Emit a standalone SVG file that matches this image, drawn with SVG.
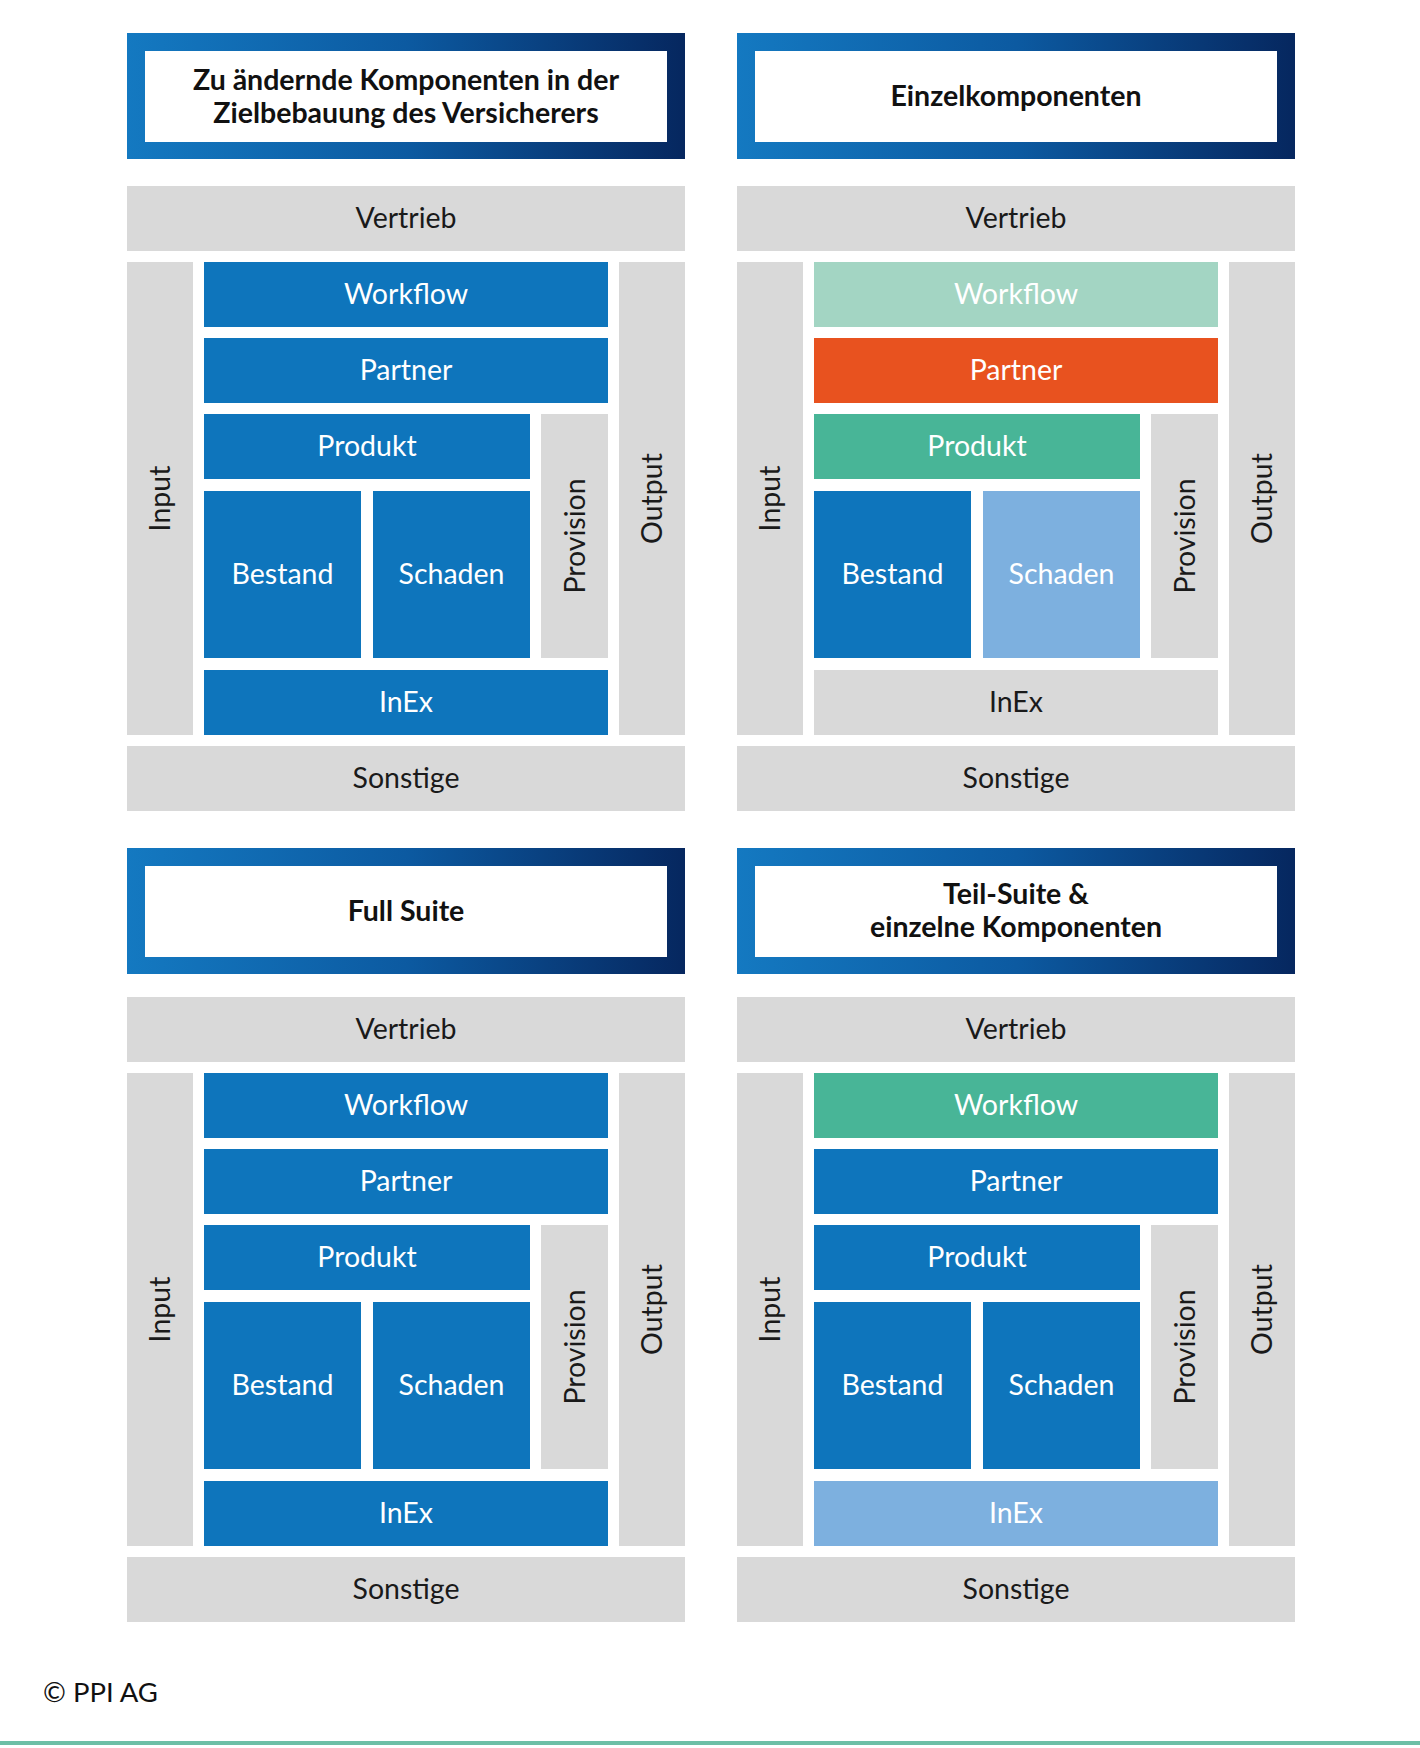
<svg xmlns="http://www.w3.org/2000/svg" width="1420" height="1748" viewBox="0 0 1420 1748">
<defs>
<linearGradient id="hdr" x1="0" y1="0" x2="1" y2="0">
<stop offset="0" stop-color="#1479c1"/>
<stop offset="0.5" stop-color="#0c5aa1"/>
<stop offset="1" stop-color="#06275f"/>
</linearGradient>
<style>
.blue{fill:#0e75bc}
.gray{fill:#d9d9d9}
.lgreen{fill:#a3d5c3}
.orange{fill:#e8521f}
.green{fill:#48b597}
.lblue{fill:#7db0df}
.white{fill:#ffffff}
.hdr{fill:url(#hdr)}
text{font-family:Lato,"Open Sans","Noto Sans",sans-serif;font-size:28.5px;text-anchor:middle}
.d{fill:#1a1a1a}
.w{fill:#ffffff}
.t{font-weight:bold;font-size:28.5px;fill:#111111}
.foot{text-anchor:start;fill:#111111;font-size:27.5px}
</style>
</defs>
<rect width="1420" height="1748" fill="#ffffff"/>

<!-- Headers -->
<g id="h1">
<rect class="hdr" x="127" y="33" width="558" height="126"/>
<rect class="white" x="145" y="51" width="522" height="91"/>
<text class="t" x="406" y="90">Zu ändernde Komponenten in der</text>
<text class="t" x="406" y="123">Zielbebauung des Versicherers</text>
</g>
<g id="h2">
<rect class="hdr" x="737" y="33" width="558" height="126"/>
<rect class="white" x="755" y="51" width="522" height="91"/>
<text class="t" x="1016" y="106">Einzelkomponenten</text>
</g>
<g id="h3">
<rect class="hdr" x="127" y="848" width="558" height="126"/>
<rect class="white" x="145" y="866" width="522" height="91"/>
<text class="t" x="406" y="921">Full Suite</text>
</g>
<g id="h4">
<rect class="hdr" x="737" y="848" width="558" height="126"/>
<rect class="white" x="755" y="866" width="522" height="91"/>
<text class="t" x="1016" y="904">Teil-Suite &amp;</text>
<text class="t" x="1016" y="937">einzelne Komponenten</text>
</g>

<!-- Panel 1 -->
<g id="panel1" transform="translate(127,186)">
<g id="p1-vertrieb"><rect class="gray" x="0" y="0" width="558" height="65"/><text class="d" x="279" y="42">Vertrieb</text></g>
<g id="p1-input"><rect class="gray" x="0" y="76" width="66" height="473"/><text class="d" transform="translate(33,312.5) rotate(-90)" y="10">Input</text></g>
<g id="p1-workflow"><rect class="blue" x="77" y="76" width="404" height="65"/><text class="w" x="279" y="118">Workflow</text></g>
<g id="p1-partner"><rect class="blue" x="77" y="152" width="404" height="65"/><text class="w" x="279" y="194">Partner</text></g>
<g id="p1-produkt"><rect class="blue" x="77" y="228" width="326" height="65"/><text class="w" x="240" y="270">Produkt</text></g>
<g id="p1-provision"><rect class="gray" x="414" y="228" width="67" height="244"/><text class="d" transform="translate(447.5,350) rotate(-90)" y="10">Provision</text></g>
<g id="p1-bestand"><rect class="blue" x="77" y="305" width="157" height="167"/><text class="w" x="155.5" y="398">Bestand</text></g>
<g id="p1-schaden"><rect class="blue" x="246" y="305" width="157" height="167"/><text class="w" x="324.5" y="398">Schaden</text></g>
<g id="p1-inex"><rect class="blue" x="77" y="484" width="404" height="65"/><text class="w" x="279" y="526">InEx</text></g>
<g id="p1-output"><rect class="gray" x="492" y="76" width="66" height="473"/><text class="d" transform="translate(525,312.5) rotate(-90)" y="10">Output</text></g>
<g id="p1-sonstige"><rect class="gray" x="0" y="560" width="558" height="65"/><text class="d" x="279" y="602">Sonstige</text></g>
</g>

<!-- Panel 2 -->
<g id="panel2" transform="translate(737,186)">
<g id="p2-vertrieb"><rect class="gray" x="0" y="0" width="558" height="65"/><text class="d" x="279" y="42">Vertrieb</text></g>
<g id="p2-input"><rect class="gray" x="0" y="76" width="66" height="473"/><text class="d" transform="translate(33,312.5) rotate(-90)" y="10">Input</text></g>
<g id="p2-workflow"><rect class="lgreen" x="77" y="76" width="404" height="65"/><text class="w" x="279" y="118">Workflow</text></g>
<g id="p2-partner"><rect class="orange" x="77" y="152" width="404" height="65"/><text class="w" x="279" y="194">Partner</text></g>
<g id="p2-produkt"><rect class="green" x="77" y="228" width="326" height="65"/><text class="w" x="240" y="270">Produkt</text></g>
<g id="p2-provision"><rect class="gray" x="414" y="228" width="67" height="244"/><text class="d" transform="translate(447.5,350) rotate(-90)" y="10">Provision</text></g>
<g id="p2-bestand"><rect class="blue" x="77" y="305" width="157" height="167"/><text class="w" x="155.5" y="398">Bestand</text></g>
<g id="p2-schaden"><rect class="lblue" x="246" y="305" width="157" height="167"/><text class="w" x="324.5" y="398">Schaden</text></g>
<g id="p2-inex"><rect class="gray" x="77" y="484" width="404" height="65"/><text class="d" x="279" y="526">InEx</text></g>
<g id="p2-output"><rect class="gray" x="492" y="76" width="66" height="473"/><text class="d" transform="translate(525,312.5) rotate(-90)" y="10">Output</text></g>
<g id="p2-sonstige"><rect class="gray" x="0" y="560" width="558" height="65"/><text class="d" x="279" y="602">Sonstige</text></g>
</g>

<!-- Panel 3 -->
<g id="panel3" transform="translate(127,997)">
<g id="p3-vertrieb"><rect class="gray" x="0" y="0" width="558" height="65"/><text class="d" x="279" y="42">Vertrieb</text></g>
<g id="p3-input"><rect class="gray" x="0" y="76" width="66" height="473"/><text class="d" transform="translate(33,312.5) rotate(-90)" y="10">Input</text></g>
<g id="p3-workflow"><rect class="blue" x="77" y="76" width="404" height="65"/><text class="w" x="279" y="118">Workflow</text></g>
<g id="p3-partner"><rect class="blue" x="77" y="152" width="404" height="65"/><text class="w" x="279" y="194">Partner</text></g>
<g id="p3-produkt"><rect class="blue" x="77" y="228" width="326" height="65"/><text class="w" x="240" y="270">Produkt</text></g>
<g id="p3-provision"><rect class="gray" x="414" y="228" width="67" height="244"/><text class="d" transform="translate(447.5,350) rotate(-90)" y="10">Provision</text></g>
<g id="p3-bestand"><rect class="blue" x="77" y="305" width="157" height="167"/><text class="w" x="155.5" y="398">Bestand</text></g>
<g id="p3-schaden"><rect class="blue" x="246" y="305" width="157" height="167"/><text class="w" x="324.5" y="398">Schaden</text></g>
<g id="p3-inex"><rect class="blue" x="77" y="484" width="404" height="65"/><text class="w" x="279" y="526">InEx</text></g>
<g id="p3-output"><rect class="gray" x="492" y="76" width="66" height="473"/><text class="d" transform="translate(525,312.5) rotate(-90)" y="10">Output</text></g>
<g id="p3-sonstige"><rect class="gray" x="0" y="560" width="558" height="65"/><text class="d" x="279" y="602">Sonstige</text></g>
</g>

<!-- Panel 4 -->
<g id="panel4" transform="translate(737,997)">
<g id="p4-vertrieb"><rect class="gray" x="0" y="0" width="558" height="65"/><text class="d" x="279" y="42">Vertrieb</text></g>
<g id="p4-input"><rect class="gray" x="0" y="76" width="66" height="473"/><text class="d" transform="translate(33,312.5) rotate(-90)" y="10">Input</text></g>
<g id="p4-workflow"><rect class="green" x="77" y="76" width="404" height="65"/><text class="w" x="279" y="118">Workflow</text></g>
<g id="p4-partner"><rect class="blue" x="77" y="152" width="404" height="65"/><text class="w" x="279" y="194">Partner</text></g>
<g id="p4-produkt"><rect class="blue" x="77" y="228" width="326" height="65"/><text class="w" x="240" y="270">Produkt</text></g>
<g id="p4-provision"><rect class="gray" x="414" y="228" width="67" height="244"/><text class="d" transform="translate(447.5,350) rotate(-90)" y="10">Provision</text></g>
<g id="p4-bestand"><rect class="blue" x="77" y="305" width="157" height="167"/><text class="w" x="155.5" y="398">Bestand</text></g>
<g id="p4-schaden"><rect class="blue" x="246" y="305" width="157" height="167"/><text class="w" x="324.5" y="398">Schaden</text></g>
<g id="p4-inex"><rect class="lblue" x="77" y="484" width="404" height="65"/><text class="w" x="279" y="526">InEx</text></g>
<g id="p4-output"><rect class="gray" x="492" y="76" width="66" height="473"/><text class="d" transform="translate(525,312.5) rotate(-90)" y="10">Output</text></g>
<g id="p4-sonstige"><rect class="gray" x="0" y="560" width="558" height="65"/><text class="d" x="279" y="602">Sonstige</text></g>
</g>

<g id="connectors"/>

<g id="footer">
<text class="foot" x="43" y="1702">© PPI AG</text>
<rect x="0" y="1741" width="1420" height="4" fill="#6dbfa6"/>
</g>
</svg>
